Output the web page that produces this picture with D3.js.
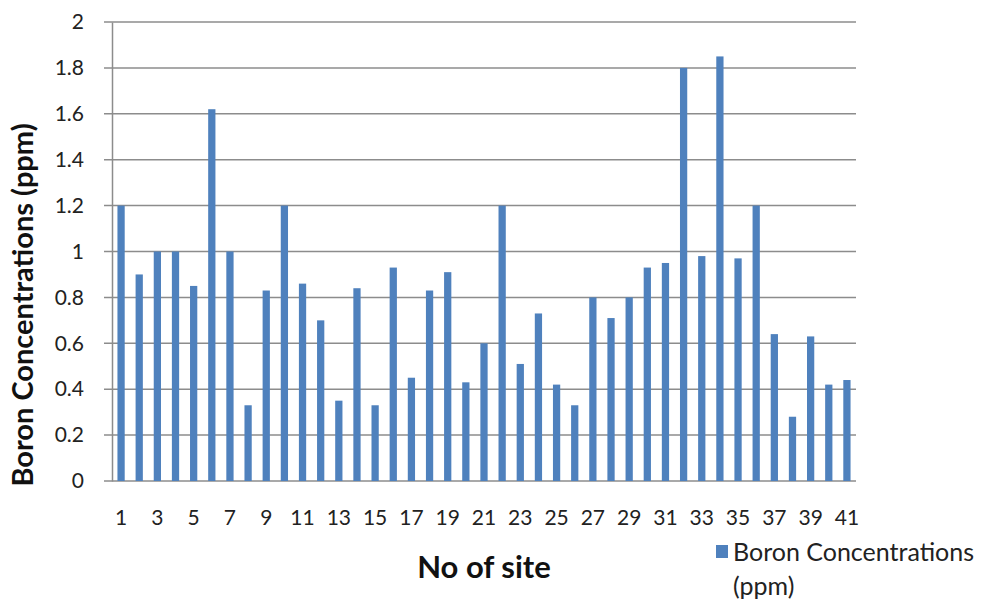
<!DOCTYPE html>
<html lang="en">
<head>
<meta charset="UTF-8" />
<title>Boron Concentrations</title>
<script src="https://d3js.org/d3.v7.min.js"></script>
<style>
  body { margin: 0; background: #fff; font-family: Lato, "Open Sans", sans-serif; }
  svg { display: block; }
  .tick text { fill: #222; }
</style>
</head>
<body>
<div id="chart"></div>
<script>
const sites = d3.range(1, 42);
const boron = [1.2, 0.9, 1.0, 1.0, 0.85, 1.62, 1.0, 0.33, 0.83, 1.2,
  0.86, 0.70, 0.35, 0.84, 0.33, 0.93, 0.45, 0.83, 0.91, 0.43,
  0.60, 1.2, 0.51, 0.73, 0.42, 0.33, 0.80, 0.71, 0.80, 0.93,
  0.95, 1.80, 0.98, 1.85, 0.97, 1.2, 0.64, 0.28, 0.63, 0.42, 0.44];
const yTicks = [0, 0.2, 0.4, 0.6, 0.8, 1, 1.2, 1.4, 1.6, 1.8, 2];

const width = 986, height = 603;
const margin = { top: 22, right: 130, bottom: 122, left: 112 };

const svg = d3.select("#chart").append("svg")
  .attr("width", width).attr("height", height);

const x = d3.scaleBand()
  .domain(sites)
  .range([margin.left, width - margin.right])
  .paddingInner(0.6).paddingOuter(0.3);

const y = d3.scaleLinear()
  .domain([0, 2])
  .range([height - margin.bottom, margin.top]);

// grid lines
svg.append("g")
  .selectAll("line")
  .data(yTicks)
  .join("line")
  .attr("x1", margin.left - 8).attr("x2", width - margin.right)
  .attr("y1", d => y(d)).attr("y2", d => y(d))
  .attr("stroke", "#8c8c8c").attr("stroke-width", 1.5);

// y axis
const yAxis = svg.append("g")
  .attr("transform", `translate(${margin.left},0)`)
  .call(d3.axisLeft(y).tickValues(yTicks).tickSize(0).tickPadding(28).tickFormat(d3.format("~g")));
yAxis.select(".domain").attr("stroke", "#8c8c8c").attr("stroke-width", 1.5);
yAxis.selectAll("text").attr("font-size", 21).attr("font-family", "Lato, sans-serif");

// bars
svg.append("g")
  .selectAll("rect")
  .data(boron)
  .join("rect")
  .attr("x", (d, i) => x(sites[i]))
  .attr("width", x.bandwidth())
  .attr("y", d => y(d))
  .attr("height", d => y(0) - y(d))
  .attr("fill", "#4f81bd");

// x axis
const xAxis = svg.append("g")
  .attr("transform", `translate(0,${y(0)})`)
  .call(d3.axisBottom(x).tickSize(0).tickPadding(29)
    .tickFormat(d => d % 2 === 1 ? d : ""));
xAxis.select(".domain").remove();
xAxis.selectAll("text").attr("font-size", 21).attr("font-family", "Lato, sans-serif");

// axis titles
svg.append("text")
  .attr("transform", `translate(33,305) rotate(-90)`)
  .attr("text-anchor", "middle")
  .attr("font-size", 29).attr("font-weight", "bold").attr("fill", "#111")
  .text("Boron Concentrations (ppm)");

svg.append("text")
  .attr("x", 484).attr("y", 578)
  .attr("text-anchor", "middle")
  .attr("font-size", 31).attr("font-weight", "bold").attr("fill", "#111")
  .text("No of site");

// legend
const legend = svg.append("g").attr("transform", "translate(716,545)");
legend.append("rect").attr("width", 12).attr("height", 13).attr("fill", "#4f81bd");
legend.append("text").attr("x", 17).attr("y", 16)
  .attr("font-size", 25).attr("fill", "#222")
  .text("Boron Concentrations");
legend.append("text").attr("x", 17).attr("y", 50)
  .attr("font-size", 25).attr("fill", "#222")
  .text("(ppm)");
</script>
</body>
</html>
